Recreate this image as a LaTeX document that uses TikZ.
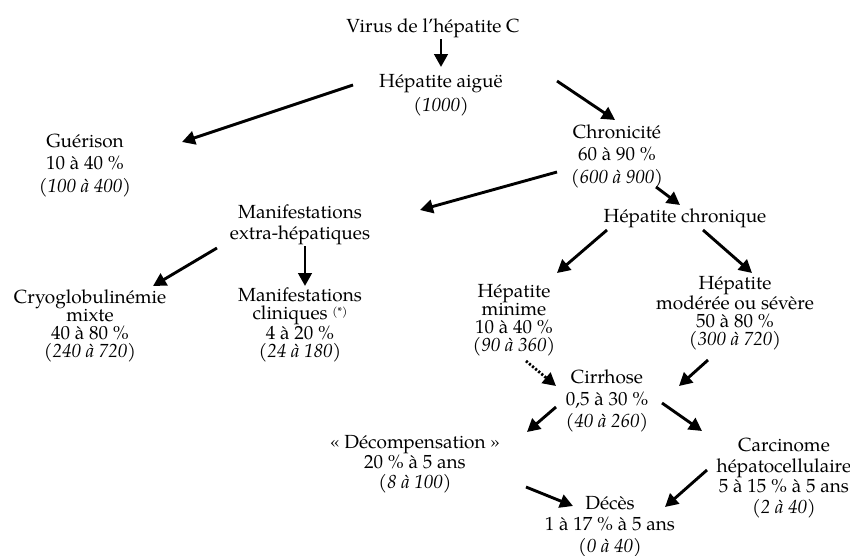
\documentclass[tikz,border=0pt]{standalone}
\usepackage{fontspec}
\setmainfont{TeX Gyre Pagella}
\usetikzlibrary{arrows.meta}
\tikzset{
  blk/.style={inner sep=0pt, align=center, anchor=base, font=\fontsize{19}{#1}\selectfont},
  blk/.default=22,
  arr/.style={line width=2.9pt, -{Triangle[length=13pt,width=13.5pt]}},
  dotarr/.style={arr, line width=2.8pt, dash pattern=on 2.2pt off 1.8pt}
}
\newcommand{\mysuprefmark}{\raisebox{4pt}{\fontsize{11.5}{11.5}\selectfont(*)}}
\begin{document}
\begin{tikzpicture}[x=1pt,y=-1pt]
\useasboundingbox (0,0) rectangle (850,555);
% text blocks (anchor = baseline of the last line)
\node[blk] (virus) at (433,32) {Virus de l’hépatite C};
\node[blk=24] (aigue) at (441,111) {Hépatite aiguë\\\textit{(1000)}};
\node[blk=22.5] (guer) at (85,192) {Guérison\\10 à 40 \%\\\textit{(100 à 400)}};
\node[blk=22.5] (chron) at (617,183) {Chronicité\\60 à 90 \%\\\textit{(600 à 900)}};
\node[blk=21] (extra) at (300,239) {Manifestations\\extra-hépatiques};
\node[blk] (hepchron) at (685,222) {Hépatite chronique};
\node[blk=18] (cryo) at (90,357) {Cryoglobulinémie\\mixte\\40 à 80 \%\\\textit{(240 à 720)}};
\node[blk=18] (clin) at (300,357) {Manifestations\\cliniques \mysuprefmark\\4 à 20 \%\\\textit{(24 à 180)}};
\node[blk=18] (minime) at (514,351) {Hépatite\\minime\\10 à 40 \%\\\textit{(90 à 360)}};
\node[blk=17.7] (moder) at (735,345) {Hépatite\\modérée ou sévère\\50 à 80 \%\\\textit{(300 à 720)}};
\node[blk=22] (cirr) at (607,427) {Cirrhose\\0,5 à 30 \%\\\textit{(40 à 260)}};
\node[blk=20] (decomp) at (415,488) {«~Décompensation~»\\20 \% à 5 ans\\\textit{(8 à 100)}};
\node[blk=20.5] (carc) at (784,513) {Carcinome\\hépatocellulaire\\5 à 15 \% à 5 ans\\\textit{(2 à 40)}};
\node[blk=21.5] (deces) at (610,552) {Décès\\1 à 17 \% à 5 ans\\\textit{(0 à 40)}};
% connector end points
\coordinate (v-s) at (441,39);   \coordinate (v-e) at (441,67);
\coordinate (ag-s) at (353,85);  \coordinate (ag-e) at (182,142);
\coordinate (ac-s) at (557,81);  \coordinate (ac-e) at (615,120);
\coordinate (cx-s) at (557,172); \coordinate (cx-e) at (420,210);
\coordinate (ch-s) at (656,187); \coordinate (ch-e) at (680,205);
\coordinate (hm-s) at (607,230); \coordinate (hm-e) at (557,273);
\coordinate (hs-s) at (703,230); \coordinate (hs-e) at (752,273);
\coordinate (xc-s) at (217,248); \coordinate (xc-e) at (153,286);
\coordinate (xl-s) at (305,246); \coordinate (xl-e) at (305,286);
\coordinate (mc-s) at (526,361); \coordinate (mc-e) at (556,386);
\coordinate (sc-s) at (708,360); \coordinate (sc-e) at (679,386);
\coordinate (cd-s) at (556,407); \coordinate (cd-e) at (527,432);
\coordinate (ck-s) at (662,403); \coordinate (ck-e) at (702,431);
\coordinate (dd-s) at (526,487); \coordinate (dd-e) at (573,506);
\coordinate (kd-s) at (707,470); \coordinate (kd-e) at (665,507);
% connectors
\draw[arr] (v-s) -- (v-e);
\draw[arr] (ag-s) -- (ag-e);
\draw[arr] (ac-s) -- (ac-e);
\draw[arr] (cx-s) -- (cx-e);
\draw[arr] (ch-s) -- (ch-e);
\draw[arr] (hm-s) -- (hm-e);
\draw[arr] (hs-s) -- (hs-e);
\draw[arr] (xc-s) -- (xc-e);
\draw[arr] (xl-s) -- (xl-e);
\draw[dotarr] (mc-s) -- (mc-e);
\draw[arr] (sc-s) -- (sc-e);
\draw[arr] (cd-s) -- (cd-e);
\draw[arr] (ck-s) -- (ck-e);
\draw[arr] (dd-s) -- (dd-e);
\draw[arr] (kd-s) -- (kd-e);
\end{tikzpicture}
\end{document}
